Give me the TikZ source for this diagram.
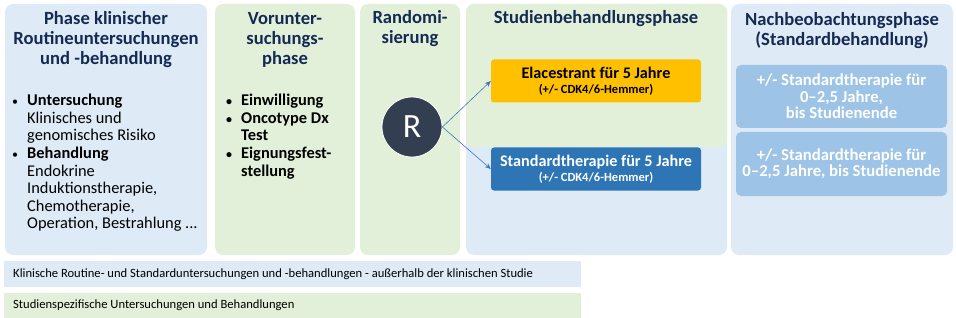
\documentclass[tikz,border=0pt]{standalone}
\usepackage{fontspec}
\setmainfont{Carlito}
\usetikzlibrary{arrows.meta}
\definecolor{lblue}{HTML}{DEEBF7}
\definecolor{lgreen}{HTML}{E2F0D9}
\definecolor{navy}{HTML}{142A52}
\definecolor{mblue}{HTML}{9DC3E6}
\definecolor{dblue}{HTML}{2E75B6}
\definecolor{gold}{HTML}{FFC000}
\definecolor{rdark}{HTML}{333F50}
\definecolor{arrowc}{HTML}{4472C4}
\newcommand{\bul}{\makebox[15pt][l]{\fontsize{12}{12}\selectfont•}}
\tikzset{
  panel/.style={rounded corners=8pt, draw=none},
  title/.style={font=\bfseries\fontsize{18.6}{20}\selectfont, text=navy, align=center, inner sep=0pt},
  body/.style={font=\fontsize{16.4}{17.6}\selectfont, text=black, align=left, anchor=north west, inner sep=0pt},
  armbox/.style={rounded corners=3pt, minimum width=210pt, minimum height=43pt, inner sep=0pt, align=center},
  fubox/.style={rounded corners=5pt, fill=mblue, minimum width=211pt, inner sep=0pt, align=center, text=white, font=\bfseries\fontsize{16.7}{16.5}\selectfont},
  legend/.style={minimum width=577pt, minimum height=26pt, inner sep=0pt, anchor=north west},
  legtext/.style={font=\fontsize{12.6}{14}\selectfont, text=black, anchor=west, inner sep=0pt},
  arm/.style={-{Stealth[length=6pt,width=5pt]}, draw=arrowc, line width=0.6pt}
}
\begin{document}
\begin{tikzpicture}[x=1pt,y=-1pt]
\useasboundingbox (0,0) rectangle (956,318);
% panels
\fill[panel, lblue] (5,4) rectangle (207,255);
\fill[panel, lgreen] (215,4) rectangle (355,255);
\fill[panel, lgreen] (360,4) rectangle (460,255);
\fill[panel, lblue] (466,4) rectangle (727,255);
\fill[panel, lgreen] (466,4) rectangle (727,147);
\fill[panel, lblue] (731,4) rectangle (953,255);
% titles
\node[title] (t1) at (106,40) {Phase klinischer\\Routineuntersuchungen\\und -behandlung};
\node[title] (t2) at (285,40) {Vorunter-\\suchungs-\\phase};
\node[title] (t3) at (410,29) {Randomi-\\sierung};
\node[title] (t4) at (596,19) {Studienbehandlungsphase};
\node[title] (t5) at (842,31) {Nachbeobachtungsphase\\(Standardbehandlung)};
% body lists
\node[body] (b1) at (12,94) {\bul\textbf{Untersuchung}\\
\hspace*{15pt}Klinisches und\\
\hspace*{15pt}genomisches Risiko\\
\bul\textbf{Behandlung}\\
\hspace*{15pt}Endokrine\\
\hspace*{15pt}Induktionstherapie,\\
\hspace*{15pt}Chemotherapie,\\
\hspace*{15pt}Operation, Bestrahlung ...};
\node[body, font=\bfseries\fontsize{16.4}{17.6}\selectfont] (b2) at (226,94) {\bul Einwilligung\\
\bul Oncotype Dx\\
\hspace*{15pt}Test\\
\bul Eignungsfest-\\
\hspace*{15pt}stellung};
% randomisation
\node[circle, fill=rdark, draw=white, line width=0.8pt, minimum size=60pt, inner sep=0pt, text=white, font=\fontsize{34}{34}\selectfont] (R) at (412,127) {R};
\node[armbox, fill=gold, text=black] (ela) at (596,81) {{\bfseries\fontsize{16.2}{16}\selectfont Elacestrant für 5 Jahre}\\[3pt]{\bfseries\fontsize{12.5}{13}\selectfont (+/- CDK4/6-Hemmer)}};
\node[armbox, fill=dblue, text=white] (std) at (596,169) {{\bfseries\fontsize{16.2}{16}\selectfont Standardtherapie für 5 Jahre}\\[3pt]{\bfseries\fontsize{12.5}{13}\selectfont (+/- CDK4/6-Hemmer)}};
\draw[arm] (R.east) -- (ela.west);
\draw[arm] (R.east) -- (std.west);
% follow-up
\node[fubox, minimum height=63pt] (fu1) at (841.5,96.5) {+/- Standardtherapie für\\0–2,5 Jahre,\\bis Studienende};
\node[fubox, minimum height=64pt] (fu2) at (841.5,164) {+/- Standardtherapie für\\0–2,5 Jahre, bis Studienende};
% legend
\node[legend, fill=lblue] (l1) at (4,261) {};
\node[legtext] (l1t) at (13,274.5) {Klinische Routine- und Standarduntersuchungen und -behandlungen - außerhalb der klinischen Studie};
\node[legend, fill=lgreen] (l2) at (4,293) {};
\node[legtext] (l2t) at (13,305.5) {Studienspezifische Untersuchungen und Behandlungen};
\end{tikzpicture}
\end{document}
